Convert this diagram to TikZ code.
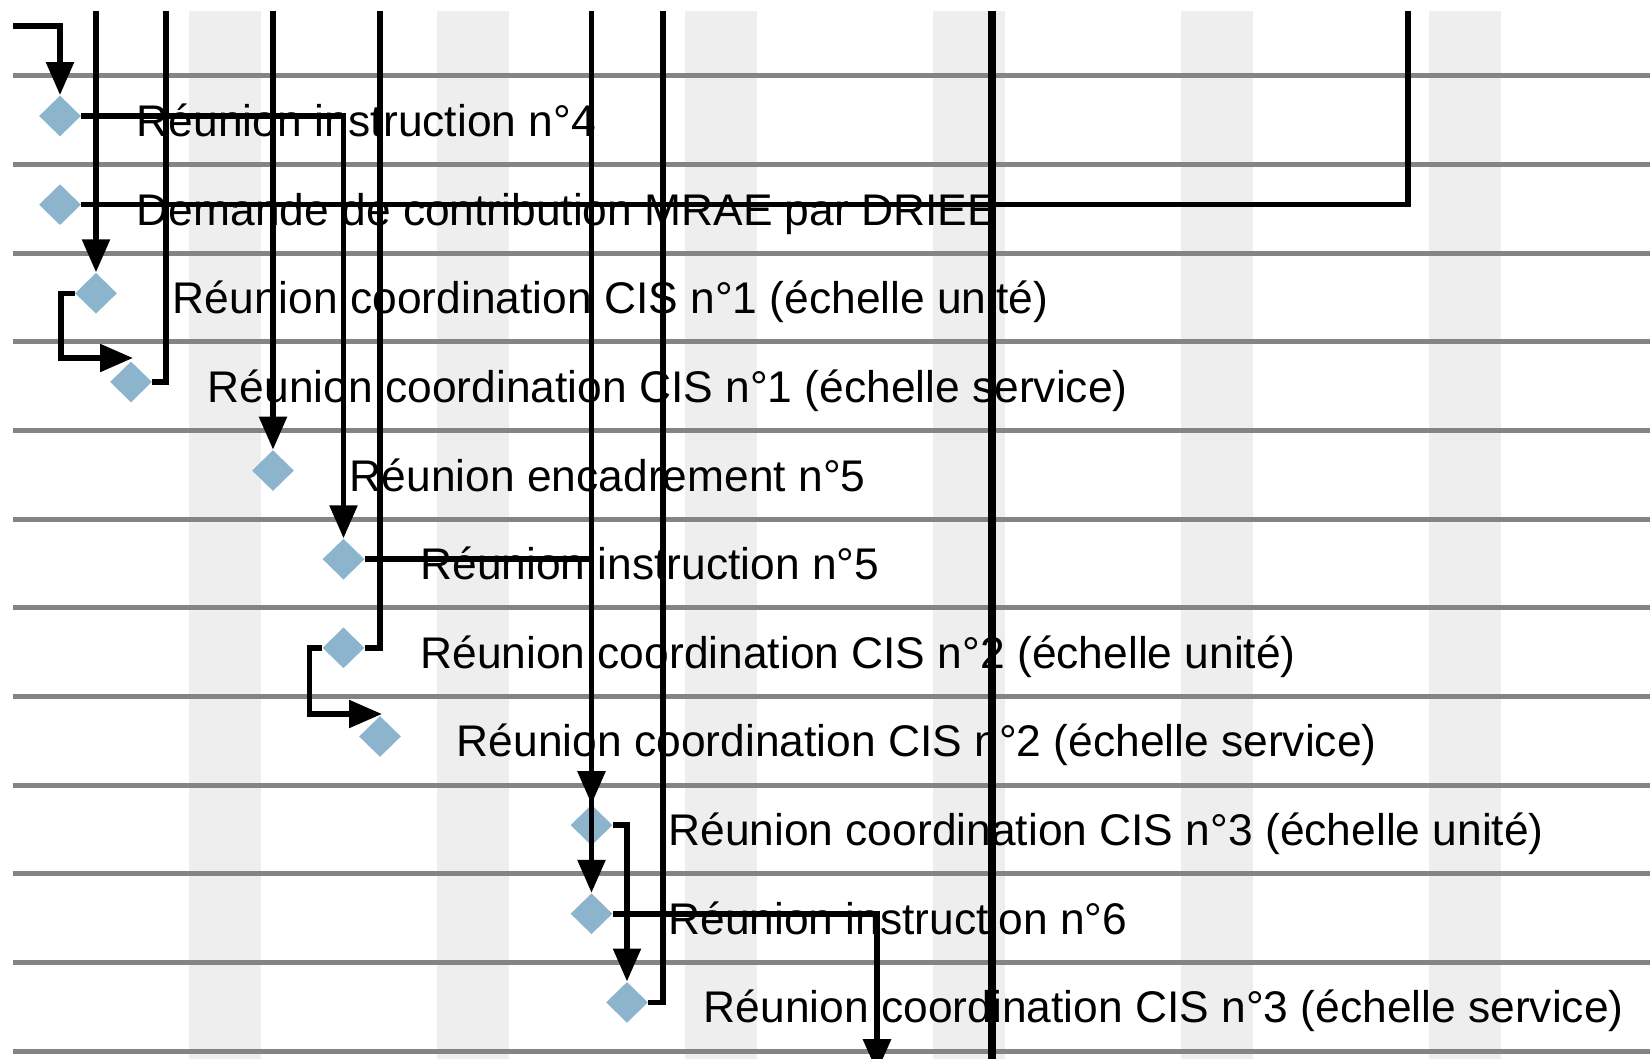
\documentclass[tikz,border=0pt]{standalone}
\usepackage{fontspec}
\setmainfont{Liberation Sans}
\usetikzlibrary{shapes.geometric,arrows.meta,calc}
\definecolor{stripecol}{HTML}{EEEEEE}
\definecolor{rowcol}{HTML}{848484}
\definecolor{milecol}{HTML}{8DB4CD}
\begin{document}
\begin{tikzpicture}[x=0.5pt,y=-0.5pt,
  ms/.style={diamond, fill=milecol, inner sep=0pt, minimum width=21pt, minimum height=20.5pt},
  lbl/.style={anchor=base west, inner sep=0pt, font=\fontsize{22.17pt}{26pt}\selectfont, text=black},
  link/.style={draw=black, line width=2.75pt},
  arr/.style={-{Triangle[width=13.5pt,length=16.5pt]}},
  bigline/.style={draw=black, line width=4pt},
  rowrule/.style={draw=rowcol, line width=2.5pt}]
\useasboundingbox (0,0) rectangle (1650,1059);
\clip (0,0) rectangle (1650,1059);
\fill[white] (0,0) rectangle (1650,1059);
% background stripes
\foreach \i in {0,...,5}
  \fill[stripecol] ({189+248*\i},11) rectangle ({261+248*\i},1059);
% row separators
\foreach \k in {0,...,11}
  \draw[rowrule] (13,{76+88.64*\k}) -- (1650,{76+88.64*\k});
% milestones
\node[ms] (d0)  at (60,116) {};
\node[ms] (d1)  at (60,204.64) {};
\node[ms] (d2)  at (96,293.28) {};
\node[ms] (d3)  at (131,381.92) {};
\node[ms] (d4)  at (273,470.56) {};
\node[ms] (d5)  at (343.5,559.2) {};
\node[ms] (d6)  at (343.5,647.84) {};
\node[ms] (d7)  at (380,736.48) {};
\node[ms] (d8)  at (591.5,825.12) {};
\node[ms] (d9)  at (591.5,913.76) {};
\node[ms] (d10) at (627,1002.4) {};
% labels
\node[lbl] (t0)  at (136.5,136.5) {Réunion instruction n°4};
\node[lbl] (t1)  at (136.5,225.14) {Demande de contribution MRAE par DRIEE};
\node[lbl] (t2)  at (172.5,313.78) {Réunion coordination CIS n°1 (échelle unité)};
\node[lbl] (t3)  at (207.5,402.42) {Réunion coordination CIS n°1 (échelle service)};
\node[lbl] (t4)  at (349.5,491.06) {Réunion encadrement n°5};
\node[lbl] (t5)  at (420,579.7) {Réunion instruction n°5};
\node[lbl] (t6)  at (420,668.34) {Réunion coordination CIS n°2 (échelle unité)};
\node[lbl] (t7)  at (456.5,756.98) {Réunion coordination CIS n°2 (échelle service)};
\node[lbl] (t8)  at (668,845.62) {Réunion coordination CIS n°3 (échelle unité)};
\node[lbl] (t9)  at (668,934.26) {Réunion instruction n°6};
\node[lbl] (t10) at (703.5,1022.9) {Réunion coordination CIS n°3 (échelle service)};
% free ends of connectors
\coordinate (in0)   at (13,26);
\coordinate (top2)  at (96,11);
\coordinate (top3)  at (166,11);
\coordinate (top4)  at (273,11);
\coordinate (top6)  at (380,11);
\coordinate (top7)  at (1408,11);
\coordinate (k8)    at (61,358);
\coordinate (k9)    at (309.5,714);
\coordinate (top11) at (591.5,11);
\coordinate (top13) at (663,11);
\coordinate (bot14) at (877,1072);
\coordinate (top15) at (992,11);
\coordinate (bot15) at (992,1059);
% connectors
\draw[link,arr] (in0) -| (d0.north);
\draw[link,arr] (top2) -- (d2.north);
\draw[link] (d3.east) -| (top3);
\draw[link,arr] (top4) -- (d4.north);
\draw[link,arr] (d0.east) -| (d5.north);
\draw[link] (d6.east) -| (top6);
\draw[link] (d1.east) -| (top7);
\draw[link,arr] (d2.west) -| (k8) -- ($(d3.north |- k8)+(2,0)$);
\draw[link,arr] (d6.west) -| (k9) -- ($(d7.north |- k9)+(2,0)$);
\draw[link,arr] (d5.east) -| (d8.north);
\draw[link,arr] (top11) -- (d9.north);
\draw[link,arr] (d8.east) -| (d10.north);
\draw[link] (d10.east) -| (top13);
\draw[link,arr,line width=3.25pt] (d9.east) -| (bot14);
\draw[bigline] (top15) -- (bot15);
\end{tikzpicture}
\end{document}
